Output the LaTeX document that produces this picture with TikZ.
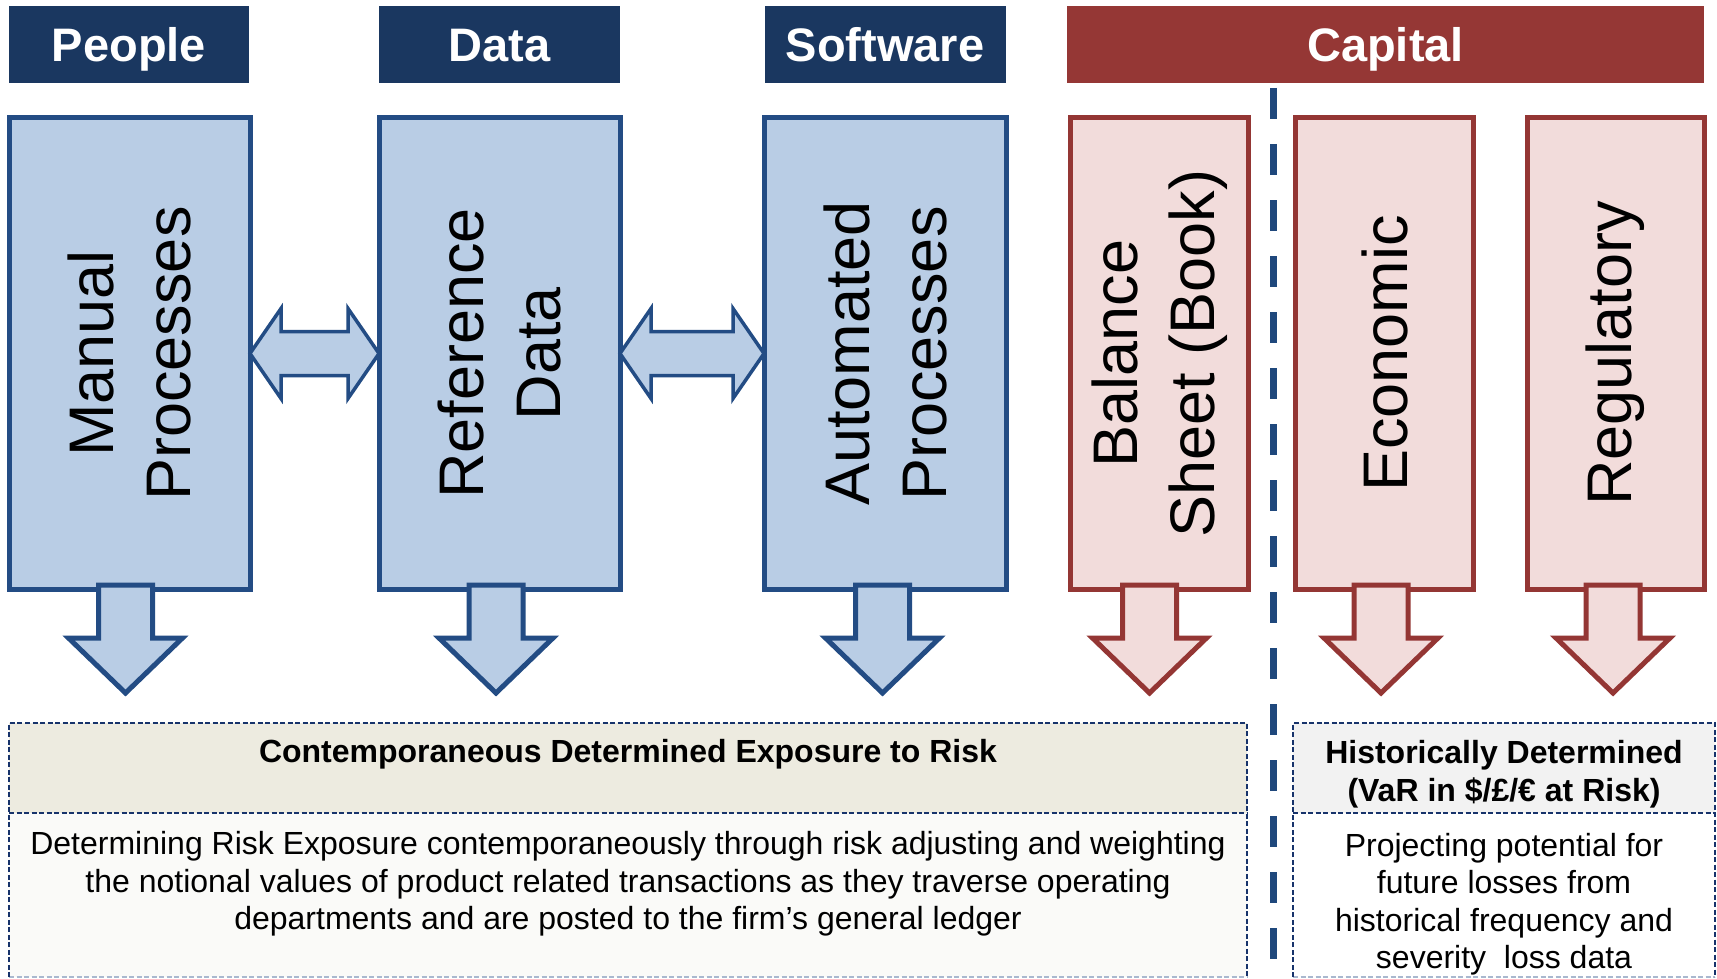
\documentclass[tikz,border=0pt]{standalone}
\usepackage{fontspec}
\setmainfont{Liberation Sans}
\usetikzlibrary{calc}
\definecolor{navy}{HTML}{1A3760}
\definecolor{capred}{HTML}{953735}
\definecolor{bfill}{HTML}{B9CDE5}
\definecolor{bline}{HTML}{234C84}
\definecolor{rfill}{HTML}{F2DCDB}
\definecolor{rline}{HTML}{943634}
\definecolor{dashblue}{HTML}{1F487C}
\definecolor{lhead}{HTML}{EDEBE0}
\definecolor{lbody}{HTML}{FAFAF8}
\definecolor{rhead}{HTML}{F2F2F2}
\definecolor{boxdash}{HTML}{17336B}
\definecolor{lightdash}{HTML}{A9B8CF}
\newcommand\mydownarr[3]{%
  \draw[#1] ([xshift=#3pt-27pt,yshift=4pt]#2.south) -- ++(0,53) -- ++(-30,0)
    -- ([xshift=#3pt,yshift=-104pt]#2.south) -- ++(57,-55) -- ++(-30,0) -- ++(0,-53) -- cycle;}
\newcommand\mydblarr[2]{%
  \draw[dblarrow] (#1.east) -- ++(31,-45) -- ++(0,23)
    -- ([xshift=-31pt,yshift=22pt]#2.west) -- ++(0,-23) -- (#2.west) -- ++(-31,45) -- ++(0,-23)
    -- ([xshift=31pt,yshift=-22pt]#1.east) -- ++(0,23) -- cycle;}
\begin{document}
\begin{tikzpicture}[x=1pt,y=-1pt,
  hdr/.style={fill=#1,draw=none,text=white,font=\fontsize{47}{56}\selectfont\bfseries,
    minimum height=77pt,inner sep=0pt,outer sep=0pt,text height=34pt,text depth=0pt},
  bluebox/.style={fill=bfill,draw=bline,line width=5pt,minimum height=471pt,inner sep=0pt,outer sep=0pt},
  redbox/.style={fill=rfill,draw=rline,line width=5pt,minimum height=471pt,inner sep=0pt,outer sep=0pt},
  vtext/.style={rotate=90,align=center,font=\fontsize{63}{77}\selectfont,inner sep=0pt},
  bluearrow/.style={fill=bfill,draw=bline,line width=5pt,line join=miter},
  redarrow/.style={fill=rfill,draw=rline,line width=5pt,line join=miter},
  dblarrow/.style={fill=bfill,draw=bline,line width=3.5pt,line join=miter},
  panel/.style={inner sep=0pt,outer sep=0pt,draw=none},
  bdash/.style={draw=boxdash,line width=2.2pt,dash pattern=on 5pt off 2.5pt},
  ldash/.style={draw=lightdash,line width=2pt,dash pattern=on 5pt off 2.5pt},
  vdash/.style={draw=dashblue,line width=7pt,dash pattern=on 31pt off 25pt},
  btitle/.style={font=\fontsize{32}{37.5}\selectfont\bfseries,align=center,inner sep=0pt},
  btext/.style={font=\fontsize{32}{37.5}\selectfont,align=center,inner sep=0pt}
]
\fill[white] (0,0) rectangle (1717,979);
\useasboundingbox (0,0) rectangle (1717,979);

% headers
\node[hdr=navy,minimum width=240pt] (hpeople) at (129,44.5) {People};
\node[hdr=navy,minimum width=241pt] (hdata) at (499.5,44.5) {Data};
\node[hdr=navy,minimum width=241pt] (hsoft) at (885,44.5) {Software};
\node[hdr=capred,minimum width=637pt] (hcap) at (1385.5,44.5) {Capital};

% divider
\coordinate (d1) at (1273,88);
\coordinate (d2) at (1273,979);
\draw[vdash] (d1) -- (d2);

% bottom panels
\node[panel,fill=lhead,minimum width=1238pt,minimum height=90pt] (lh) at (628,768) {};
\node[panel,fill=lbody,minimum width=1238pt,minimum height=164pt] (lb) at (628,895) {};
\node[panel,fill=rhead,minimum width=422pt,minimum height=90pt] (rh) at (1504,768) {};
\node[panel,fill=white,minimum width=422pt,minimum height=164pt] (rb) at (1504,895) {};
\draw[ldash] (lb.south west) -- (lb.south east);
\draw[ldash] (rb.south west) -- (rb.south east);
\draw[bdash] (lb.south west) -- (lh.north west) -- (lh.north east) -- (lb.south east);
\draw[bdash] (lh.south west) -- (lh.south east);
\draw[bdash] (rb.south west) -- (rh.north west) -- (rh.north east) -- (rb.south east);
\draw[bdash] (rh.south west) -- (rh.south east);

\node[btitle] (lt) at (628,754) {Contemporaneous Determined Exposure to Risk};
\node[btext] (ltx) at (628,884) {Determining Risk Exposure contemporaneously through risk adjusting and weighting\\
the notional values of product related transactions as they traverse operating\\
departments and are posted to the firm’s general ledger};
\node[btitle] (rt) at (1504,774) {Historically Determined\\(VaR in \$/£/€ at Risk)};
\node[btext] (rtx) at (1504,904) {Projecting potential for\\future losses from\\historical frequency and\\severity\ \ loss data};

% main boxes
\node[bluebox,minimum width=241pt] (man) at (129.5,353.5) {};
\node[bluebox,minimum width=241pt] (ref) at (499.5,353.5) {};
\node[bluebox,minimum width=242pt] (aut) at (885,353.5) {};
\node[redbox,minimum width=178pt] (bal) at (1159.5,353.5) {};
\node[redbox,minimum width=178pt] (eco) at (1384.5,353.5) {};
\node[redbox,minimum width=177pt] (reg) at (1615.5,353.5) {};

\node[vtext] at (man) {Manual\\Processes};
\node[vtext] at (ref) {Reference\\Data};
\node[vtext] at (aut) {Automated\\Processes};
\node[vtext] at (bal) {Balance\\Sheet (Book)};
\node[vtext] at (eco) {Economic};
\node[vtext] at (reg) {Regulatory};

% arrows
\mydblarr{man}{ref}
\mydblarr{ref}{aut}
\mydownarr{bluearrow}{man}{-4}
\mydownarr{bluearrow}{ref}{-3.5}
\mydownarr{bluearrow}{aut}{-2.5}
\mydownarr{redarrow}{bal}{-10}
\mydownarr{redarrow}{eco}{-3.5}
\mydownarr{redarrow}{reg}{-2.5}
\end{tikzpicture}
\end{document}
